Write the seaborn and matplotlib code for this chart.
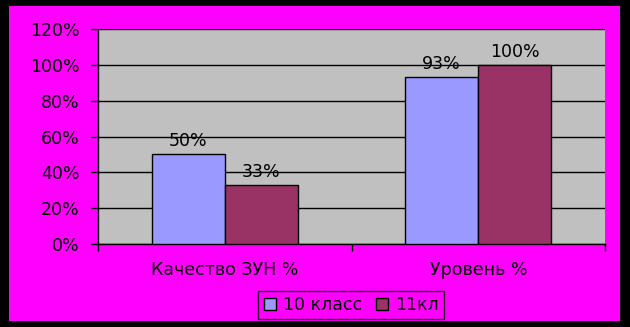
import matplotlib
matplotlib.use("Agg")
import matplotlib.pyplot as plt
import matplotlib.patches as mpatches
from matplotlib.ticker import FuncFormatter, MultipleLocator
import seaborn as sns
import pandas as pd

categories = ["Качество ЗУН %", "Уровень %"]
series_names = ["10 класс", "11кл"]
values_10 = [50, 93]
values_11 = [33, 100]
colors = ["#9999FF", "#993366"]

df = pd.DataFrame({
    "cat": categories * 2,
    "series": [series_names[0]] * 2 + [series_names[1]] * 2,
    "val": values_10 + values_11,
})

sns.set_style("white")
plt.rcParams["font.family"] = ["DejaVu Sans"]
plt.rcParams["text.color"] = "black"
plt.rcParams["xtick.color"] = "black"
plt.rcParams["ytick.color"] = "black"
plt.rcParams["axes.labelcolor"] = "black"

FS = 12.5

fig = plt.figure(figsize=(6.3, 3.27), dpi=100, facecolor="black")
fig.patches.append(mpatches.Rectangle((9 / 630, 6 / 327), 611 / 630, 315 / 327,
                                      transform=fig.transFigure, facecolor="#FF00FF",
                                      edgecolor="none", zorder=-10))
ax = fig.add_axes([98 / 630, 83 / 327, 507 / 630, 215 / 327])
ax.set_facecolor("#C0C0C0")

sns.barplot(data=df, x="cat", y="val", hue="series", hue_order=series_names,
            order=categories, palette=colors, width=0.576, edgecolor="black",
            linewidth=1, saturation=1, ax=ax, legend=True, zorder=3)

for cont in ax.containers:
    labels = [f"{int(round(b.get_height()))}%" for b in cont]
    ax.bar_label(cont, labels=labels, padding=3, fontsize=FS, color="black")

ax.set_ylim(0, 120)
ax.set_xlim(-0.5, 1.5)
ax.yaxis.set_major_locator(MultipleLocator(20))
ax.yaxis.set_major_formatter(FuncFormatter(lambda v, p: f"{int(v)}%"))
ax.grid(axis="y", color="black", linewidth=1, zorder=1)
ax.set_axisbelow(True)
for s in ["top", "right"]:
    ax.spines[s].set_visible(False)
ax.spines["left"].set_color("black")
ax.spines["bottom"].set_color("black")
ax.spines["left"].set_linewidth(1)
ax.spines["bottom"].set_linewidth(1)
ax.set_xlabel("")
ax.set_ylabel("")
ax.tick_params(axis="y", left=True, length=5, width=1, color="black",
               labelcolor="black", labelsize=FS, pad=8.5)
ax.set_xticks([0, 1])
ax.set_xticklabels(categories)
ax.tick_params(axis="x", bottom=False, labelsize=FS, labelcolor="black", pad=9)
ax.set_xticks([-0.5, 0.5, 1.5], minor=True)
ax.tick_params(axis="x", which="minor", bottom=True, length=5, width=1, color="black")

leg = ax.legend(loc="center", bbox_to_anchor=(351 / 630, 22 / 327),
                bbox_transform=fig.transFigure, ncol=2, frameon=True, fancybox=False,
                fontsize=FS, handlelength=0.7, handleheight=0.7, handletextpad=0.4,
                columnspacing=0.8, borderpad=0.3)
leg.get_frame().set_facecolor("#FF00FF")
leg.get_frame().set_edgecolor("black")
leg.get_frame().set_linewidth(1)
for t in leg.get_texts():
    t.set_color("black")

fig.savefig("out.png", dpi=100, facecolor="black")
